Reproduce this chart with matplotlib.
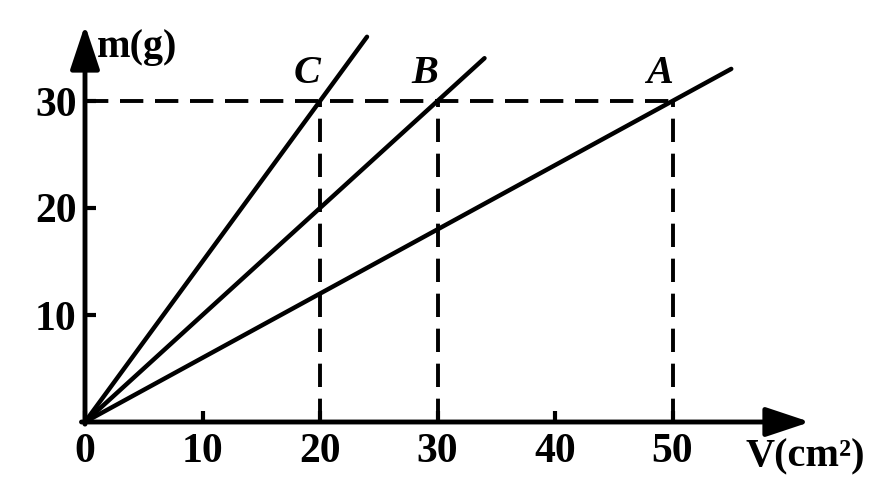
import matplotlib
matplotlib.use("Agg")
import matplotlib.pyplot as plt

# data
x_ticks = [0, 10, 20, 30, 40, 50]
y_ticks = [10, 20, 30]
names = ['A', 'B', 'C']
volume_at_30g = [50, 30, 20]     # V where each line reaches m = 30 g
line_end_v = [55, 34, 24]        # where each drawn line stops
mass_ref = 30

plt.rcParams['font.family'] = ['Liberation Serif', 'DejaVu Serif']
plt.rcParams['font.weight'] = 'bold'

fig = plt.figure(figsize=(8.94, 4.97), dpi=100)
ax = fig.add_axes([85 / 894, 75 / 497, 725 / 894, 397 / 497])
ax.set_xlim(0, 725 / 11.75)
ax.set_ylim(0, 397 / 10.7)
for s in ax.spines.values():
    s.set_visible(False)

# axes with arrows
arrow = dict(arrowstyle='-|>,head_length=0.9,head_width=0.3', lw=3.5, color='k',
             shrinkA=0, shrinkB=0, mutation_scale=30)
ax.annotate('', xy=(ax.get_xlim()[1], 0), xytext=(-0.3, 0), arrowprops=arrow,
            annotation_clip=False)
ax.annotate('', xy=(0, ax.get_ylim()[1]), xytext=(0, -0.2), arrowprops=arrow,
            annotation_clip=False)

# dashed guides
dash = dict(color='k', lw=2.8, dashes=(6, 3), clip_on=False)
ax.plot([0, max(volume_at_30g)], [mass_ref, mass_ref], **dash)
for v in volume_at_30g:
    ax.plot([v, v], [0, mass_ref], **dash)

# the three lines through the origin
for name, v30, vend in zip(names, volume_at_30g, line_end_v):
    k = mass_ref / v30
    ax.plot([0, vend], [0, k * vend], color='k', lw=3.2, solid_capstyle='round',
            clip_on=False)
    ax.text(v30 - 1.1, mass_ref + 2.6, name, fontsize=29, style='italic',
            fontweight='bold', ha='center', va='center')

ax.set_xticks(x_ticks)
ax.set_xticklabels([str(t) for t in x_ticks])
ax.set_yticks(y_ticks)
ax.set_yticklabels([str(t) for t in y_ticks])
ax.tick_params(axis='both', direction='in', length=8, width=3, labelsize=30)
ax.tick_params(axis='x', pad=8)
ax.tick_params(axis='y', pad=6)

ax.text(1.0, 35.0, 'm(g)', fontsize=29, fontweight='bold', ha='left', va='center')
ax.text(56.2, -3.3, 'V(cm²)', fontsize=29, fontweight='bold',
        ha='left', va='center', clip_on=False)

fig.savefig('out.png', dpi=100)
